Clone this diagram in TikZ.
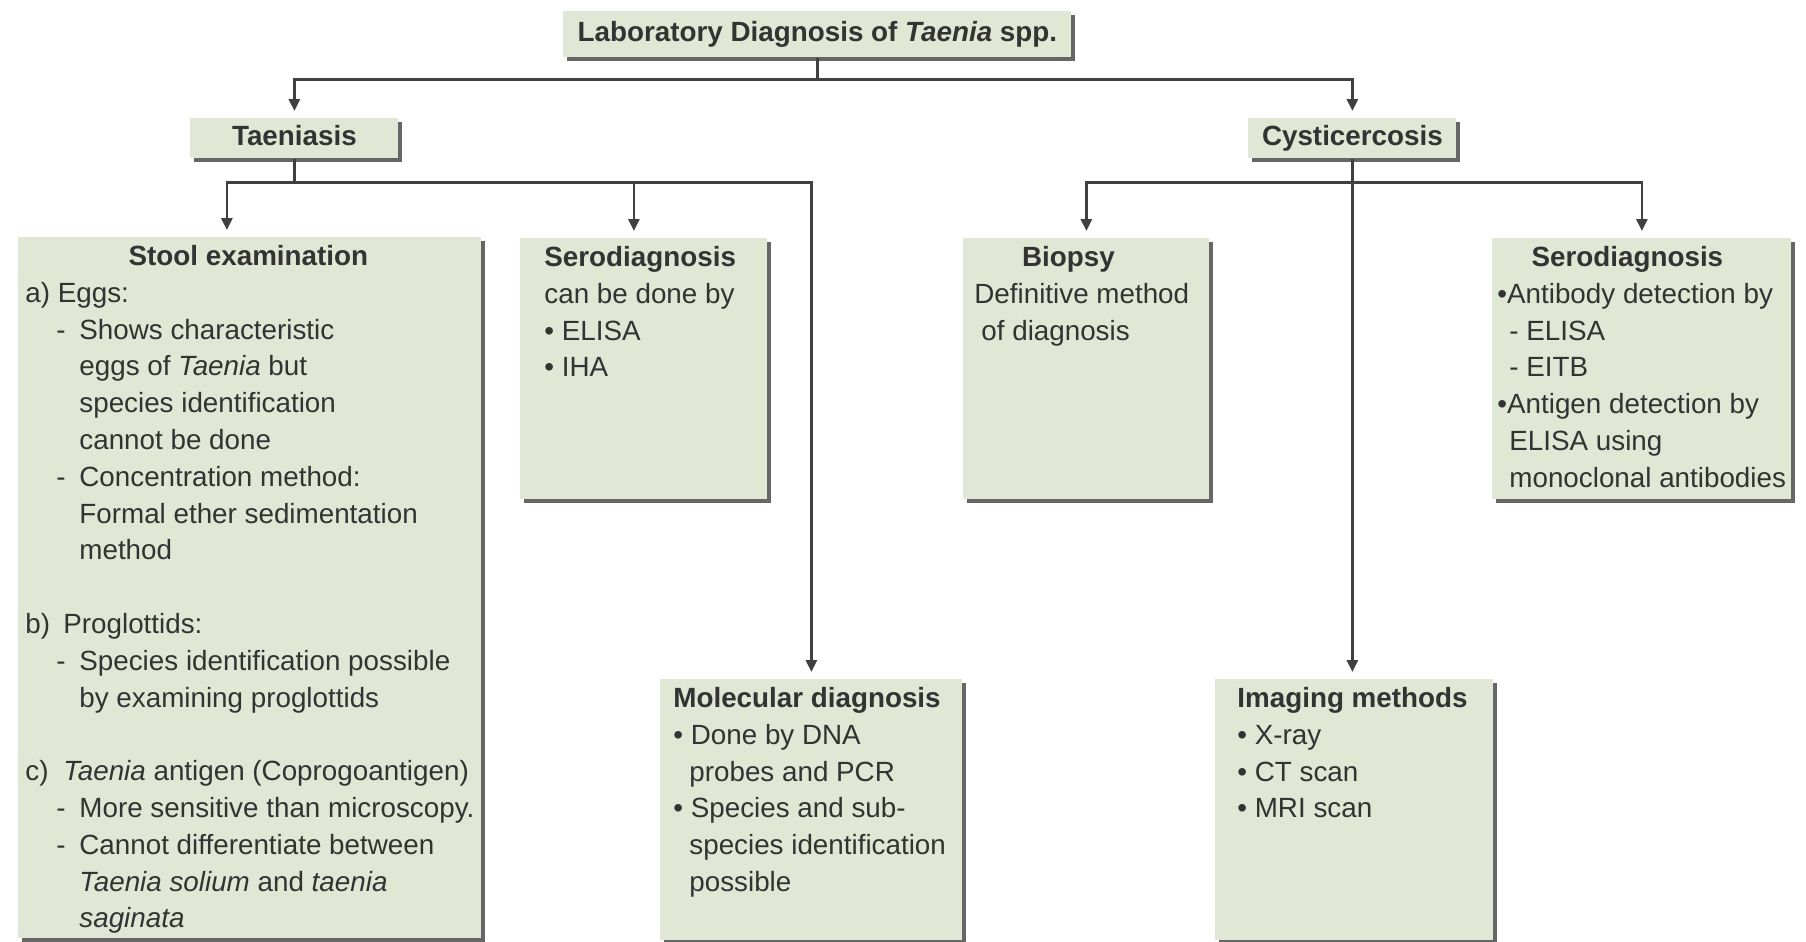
\documentclass[tikz,border=0pt]{standalone}
\usepackage{fontspec}
\setmainfont{Liberation Sans}
\usetikzlibrary{shadows, arrows.meta}
\definecolor{boxgreen}{RGB}{224,231,213}
\colorlet{inkgrey}{black!80}
\colorlet{linegrey}{black!75}
\newcommand{\dgfont}{\fontsize{13.9}{18.4}\selectfont}
\newcommand{\dashln}{\hspace*{15.5pt}\makebox[11.5pt][l]{-}}
\newcommand{\contln}{\hspace*{27pt}}
\newcommand{\bulcont}{\hspace*{8pt}}

\begin{document}
\begin{tikzpicture}[x=0.5pt, y=-0.5pt,
    every node/.style={font=\dgfont, text=inkgrey},
    panel/.style={fill=boxgreen, anchor=north west, inner sep=0pt,
        drop shadow={shadow xshift=1.6pt, shadow yshift=-1.6pt, fill=black!60, opacity=1}},
    headbox/.style={panel, minimum height=20pt, text height=10pt, text depth=3pt,
        font=\dgfont\bfseries},
    body/.style={anchor=north west, inner sep=0pt, align=left},
    conn/.style={draw=linegrey, line width=1.4pt, shorten >=3.5pt,
        -{Triangle[length=6pt, width=5.5pt]}}]
\useasboundingbox (0,0) rectangle (1806,942);

% headings
\node (title) [headbox, minimum width=254pt, minimum height=23pt]
    at (563,11) {Laboratory Diagnosis of \textit{Taenia} spp.};
\node (taen) [headbox, minimum width=104pt] at (190,118) {Taeniasis};
\node (cyst) [headbox, minimum width=104pt] at (1248,118) {Cysticercosis};

% panels
\node (stool) [panel, minimum width=231.5pt, minimum height=350.5pt] at (18,237) {};
\node (seroL) [panel, minimum width=123.5pt, minimum height=130.5pt] at (520,238) {};
\node (biopsy) [panel, minimum width=123pt, minimum height=130.5pt] at (963,238) {};
\node (seroR) [panel, minimum width=149.5pt, minimum height=130.5pt] at (1492,238) {};
\node (molec) [panel, minimum width=151pt, minimum height=130.5pt] at (660,679) {};
\node (imaging) [panel, minimum width=139pt, minimum height=130.5pt] at (1215,679) {};

% panel texts
\node (stooltxt) [body] at ([shift={(7,8)}]stool.north west) {%
    \makebox[223pt][c]{\bfseries Stool examination}\\
    a) Eggs:\\
    \dashln Shows characteristic\\
    \contln eggs of \textit{Taenia} but\\
    \contln species identification\\
    \contln cannot be done\\
    \dashln Concentration method:\\
    \contln Formal ether sedimentation\\
    \contln method\\[18.4pt]
    \makebox[19pt][l]{b)}Proglottids:\\
    \dashln Species identification possible\\
    \contln by examining proglottids\\[18.4pt]
    \makebox[19pt][l]{c)}\textit{Taenia} antigen (Coprogoantigen)\\
    \dashln More sensitive than microscopy.\\
    \dashln Cannot differentiate between\\
    \contln \textit{Taenia solium} and \textit{taenia}\\
    \contln \textit{saginata}};
\node (seroLtxt) [body] at ([shift={(24,8)}]seroL.north west) {%
    \textbf{Serodiagnosis}\\
    can be done by\\
    \textbullet\ ELISA\\
    \textbullet\ IHA};
\node (biopsytxt) [body] at ([shift={(11,8)}]biopsy.north west) {%
    \makebox[94pt][c]{\bfseries Biopsy}\\
    Definitive method\\
    \hspace*{3.5pt}of diagnosis};
\node (seroRtxt) [body] at ([shift={(5,8)}]seroR.north west) {%
    \makebox[130pt][c]{\bfseries Serodiagnosis}\\
    \textbullet Antibody detection by\\
    \hspace*{6pt}- ELISA\\
    \hspace*{6pt}- EITB\\
    \textbullet Antigen detection by\\
    \hspace*{6pt}ELISA using\\
    \hspace*{6pt}monoclonal antibodies};
\node (molectxt) [body] at ([shift={(13,8)}]molec.north west) {%
    \textbf{Molecular diagnosis}\\
    \textbullet\ Done by DNA\\
    \bulcont probes and PCR\\
    \textbullet\ Species and sub-\\
    \bulcont species identification\\
    \bulcont possible};
\node (imagingtxt) [body] at ([shift={(22,8)}]imaging.north west) {%
    \textbf{Imaging methods}\\
    \textbullet\ X-ray\\
    \textbullet\ CT scan\\
    \textbullet\ MRI scan};

% connectors
\draw [conn] (title.south) -- ++(0,22) -| (taen.north);
\draw [conn] (title.south) -- ++(0,22) -| (cyst.north);

\draw [conn] (taen.south) -- ++(0,24) -| ([shift={(-23,0)}]stool.north);
\draw [conn] (taen.south) -- ++(0,24) -| ([shift={(-10,0)}]seroL.north);
\draw [conn] (taen.south) -- ++(0,24) -| (molec.north);

\draw [conn] (cyst.south) -- (cyst.south |- imaging.north);
\draw [conn] (cyst.south) -- ++(0,24) -| (biopsy.north);
\draw [conn] (cyst.south) -- ++(0,24) -| (seroR.north);
\end{tikzpicture}
\end{document}
